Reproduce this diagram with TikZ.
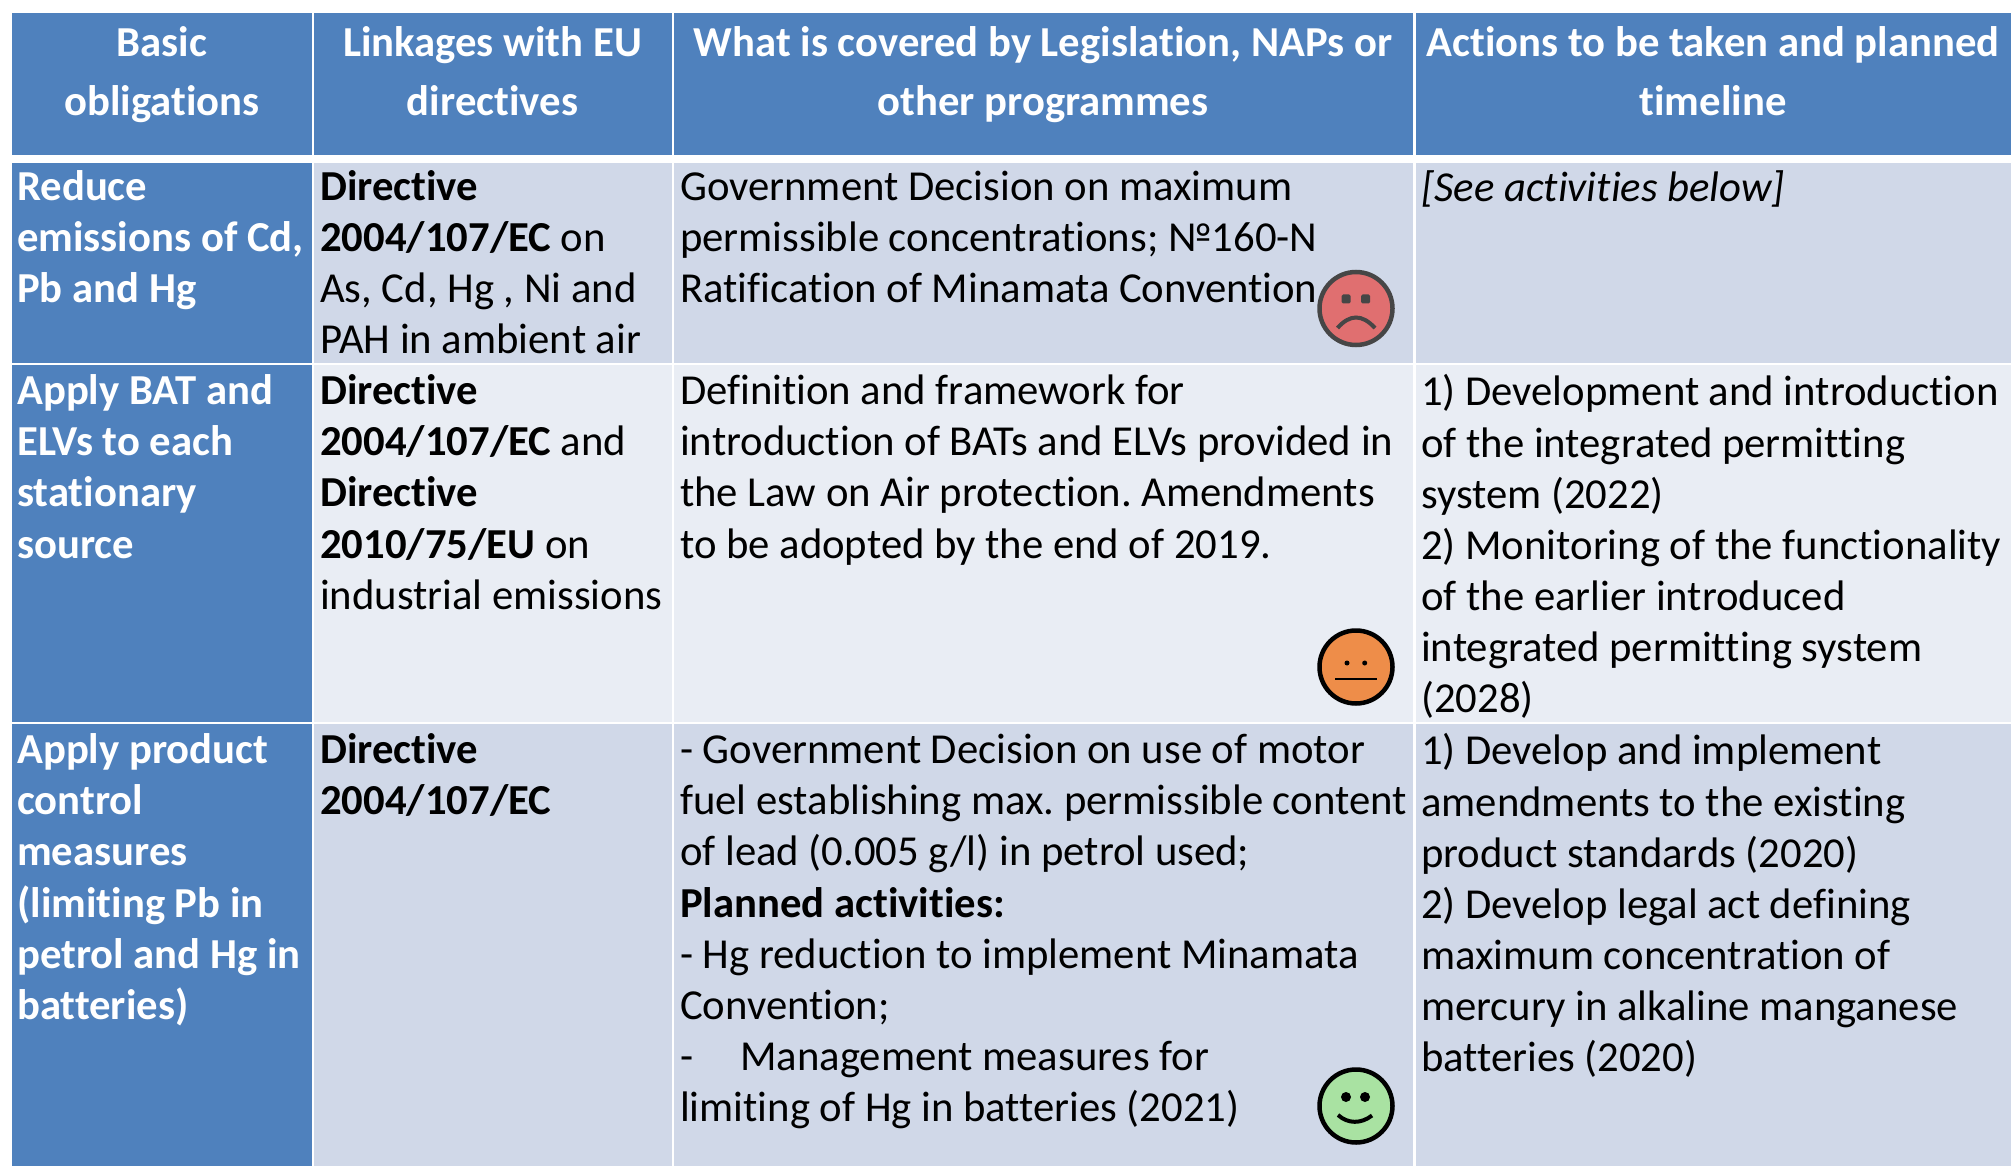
\documentclass[tikz,border=0pt]{standalone}
\usepackage{fontspec}
\setmainfont[Ligatures=NoCommon]{Carlito}
\definecolor{hdr}{HTML}{4F81BD}
\definecolor{rowa}{HTML}{D0D8E8}
\definecolor{rowb}{HTML}{E9EDF4}
\definecolor{sadring}{HTML}{464646}
\definecolor{sadfill}{HTML}{E06F70}
\definecolor{midfill}{HTML}{EE8D49}
\definecolor{gladfill}{HTML}{A9E2A2}
\newcommand\st{\rule{0pt}{30pt}}
\tikzset{
  x=1pt,y=-1pt,
  cell/.style={draw=white,line width=2.5pt,inner sep=0pt,outer sep=0pt,anchor=north west},
  hcell/.style={cell,fill=hdr},
  acell/.style={cell,fill=rowa},
  bcell/.style={cell,fill=rowb},
  body/.style={inner sep=0pt,anchor=north west,align=left,text=black,font=\fontsize{42.7}{51.1}\selectfont\frenchspacing},
  side/.style={body,text=white,font=\fontsize{42.7}{51.1}\selectfont\bfseries\frenchspacing},
  head/.style={inner sep=0pt,anchor=north,align=center,text=white,font=\fontsize{42.7}{59}\selectfont\bfseries\frenchspacing},
  face/.style={circle,line width=4.5pt,minimum size=73pt,inner sep=0pt},
}
\newcommand\cellbox[6]{\node[#2,minimum width=#5 pt-#3 pt,minimum height=#6 pt-#4 pt] (#1) at (#3,#4) {};}
\begin{document}
\begin{tikzpicture}
\useasboundingbox (0,0) rectangle (2011,1166);
% cells
\cellbox{h1}{hcell}{10.5}{12}{313}{156}
\cellbox{h2}{hcell}{313}{12}{673}{156}
\cellbox{h3}{hcell}{673}{12}{1414.5}{156}
\cellbox{h4}{hcell}{1414.5}{12}{2016}{156}
\cellbox{a1}{hcell}{10.5}{162}{313}{364}
\cellbox{a2}{acell}{313}{162}{673}{364}
\cellbox{a3}{acell}{673}{162}{1414.5}{364}
\cellbox{a4}{acell}{1414.5}{162}{2016}{364}
\cellbox{b1}{hcell}{10.5}{364}{313}{723}
\cellbox{b2}{bcell}{313}{364}{673}{723}
\cellbox{b3}{bcell}{673}{364}{1414.5}{723}
\cellbox{b4}{bcell}{1414.5}{364}{2016}{723}
\cellbox{c1}{hcell}{10.5}{723}{313}{1172}
\cellbox{c2}{acell}{313}{723}{673}{1172}
\cellbox{c3}{acell}{673}{723}{1414.5}{1172}
\cellbox{c4}{acell}{1414.5}{723}{2016}{1172}
% header text
\node[head] (th1) at (162,26) {\st Basic\\obligations};
\node[head] (th2) at (492.5,26) {\st Linkages with EU\\directives};
\node[head] (th3) at (1043,26) {\st What is covered by Legislation, NAPs or\\other programmes};
\node[head] (th4) at (1713,26) {\st Actions to be taken and planned\\timeline};
% first row
\node[side] (ta1) at (17,170) {\st Reduce\\emissions of Cd,\\Pb and Hg};
\node[body] (ta2) at (320,170) {\st\textbf{Directive}\\\textbf{2004/107/EC} on\\As, Cd, Hg , Ni and\\PAH in ambient air};
\node[body] (ta3) at (680,170) {\st Government Decision on maximum\\permissible concentrations; №160-N\\Ratification of Minamata Convention};
\node[body] (ta4) at (1421,170) {\st\textit{[See activities below]}};
% second row
\node[side] (tb1) at (17,374.5) {\st Apply BAT and\\ELVs to each\\stationary\\source};
\node[body] (tb2) at (320,374.5) {\st\textbf{Directive}\\\textbf{2004/107/EC} and\\\textbf{Directive}\\\textbf{2010/75/EU} on\\industrial emissions};
\node[body] (tb3) at (680,374.5) {\st Definition and framework for\\introduction of BATs and ELVs provided in\\the Law on Air protection. Amendments\\to be adopted by the end of 2019.};
\node[body] (tb4) at (1421,374.5) {\st 1) Development and introduction\\of the integrated permitting\\system (2022)\\2) Monitoring of the functionality\\of the earlier introduced\\integrated permitting system\\(2028)};
% third row
\node[side] (tc1) at (17,733.5) {\st Apply product\\control\\measures\\(limiting Pb in\\petrol and Hg in\\batteries)};
\node[body] (tc2) at (320,733.5) {\st\textbf{Directive}\\\textbf{2004/107/EC}};
\node[body] (tc3) at (680,733.5) {\st - Government Decision on use of motor\\fuel establishing max. permissible content\\of lead (0.005 g/l) in petrol used;\\\textbf{Planned activities:}\\- Hg reduction to implement Minamata\\Convention;\\-\hspace{47pt}Management measures for\\limiting of Hg in batteries (2021)};
\node[body] (tc4) at (1421,733.5) {\st 1) Develop and implement\\amendments to the existing\\product standards (2020)\\2) Develop legal act defining\\maximum concentration of\\mercury in alkaline manganese\\batteries (2020)};
% sad face
\node[face,draw=sadring,fill=sadfill] (sad) at (1356,308.5) {};
\fill[sadring,rounded corners=1.5pt] (1341.5,294.5) rectangle (1350.5,303.5);
\fill[sadring,rounded corners=1.5pt] (1361,294.5) rectangle (1370,303.5);
\draw[sadring,line width=4pt] (1337.5,328) .. controls (1350,314) and (1362,314) .. (1375,328);
% neutral face
\node[face,draw=black,fill=midfill] (mid) at (1356,667) {};
\fill[black] (1347,663) circle (2.5);
\fill[black] (1364.7,663) circle (2.5);
\draw[black,line width=2.2pt] (1335,679) -- (1377,679);
% happy face
\node[face,draw=black,fill=gladfill] (glad) at (1356,1106) {};
\fill[black] (1346,1097) circle (5);
\fill[black] (1365,1097) circle (5);
\draw[black,line width=4pt] (1338,1115) .. controls (1348,1124) and (1361,1124) .. (1372,1115.5);
\end{tikzpicture}
\end{document}
